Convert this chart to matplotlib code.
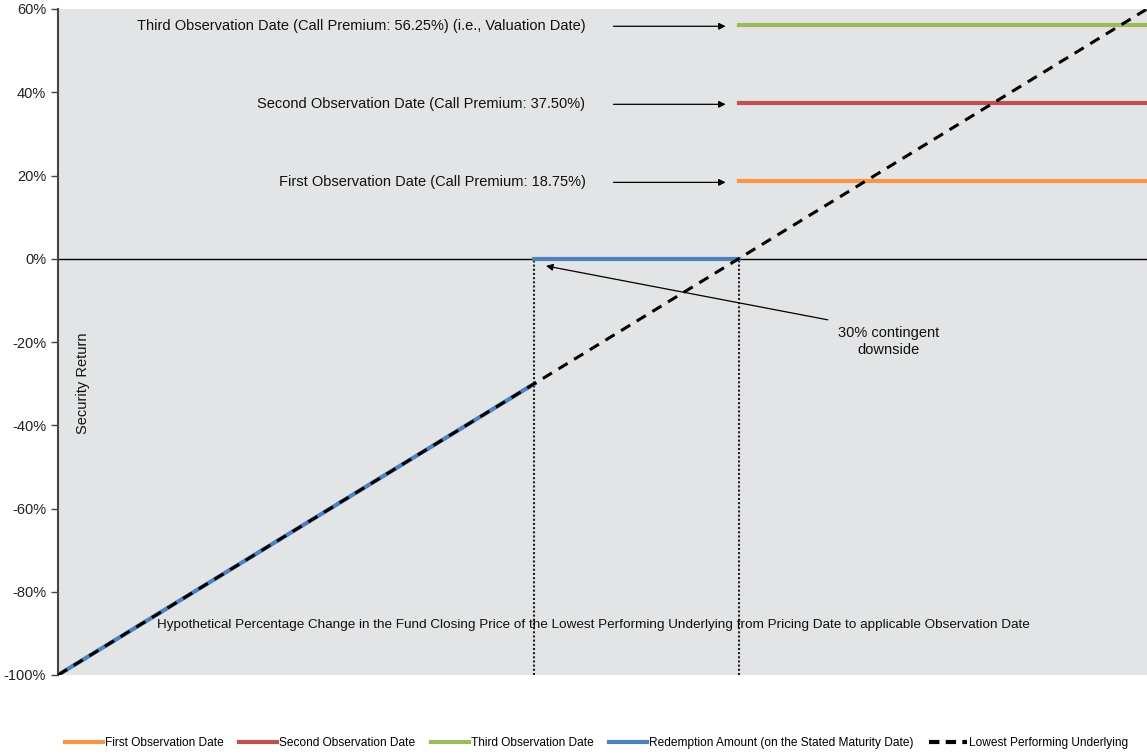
import matplotlib
matplotlib.use("Agg")
import matplotlib.pyplot as plt
from matplotlib.lines import Line2D

plt.rcParams['font.family'] = ['Liberation Sans', 'DejaVu Sans']

# Data
underlying_x = [-100, 60]
underlying_y = [-100, 60]
redemption_low_x = [-100, -30]
redemption_low_y = [-100, -30]
redemption_flat_x = [-30, 0]
redemption_flat_y = [0, 0]
premium_x = [0, 60]
first_premium = 18.75
second_premium = 37.50
third_premium = 56.25
barrier = -30
yticks = [-100, -80, -60, -40, -20, 0, 20, 40, 60]
ytick_labels = ['-100%', '-80%', '-60%', '-40%', '-20%', '0%', '20%', '40%', '60%']

c_first = '#F79646'
c_second = '#C0504D'
c_third = '#9BBB59'
c_blue = '#4F81BD'

fig = plt.figure(figsize=(11.47, 7.55), dpi=100)
ax = fig.add_axes([58/1147, 1-675/755, 1-58/1147, (675-9)/755])
ax.set_facecolor('#E3E4E5')

ax.set_xlim(-100, 60)
ax.set_ylim(-100, 60)

ax.axhline(0, color='black', lw=1, zorder=1)
ax.plot([barrier, barrier], [-100, 0], color='#222222', lw=1.5, ls=(0, (1, 1)), zorder=2)
ax.plot([0, 0], [-100, 0], color='#222222', lw=1.5, ls=(0, (1, 1)), zorder=2)

ax.plot(premium_x, [first_premium]*2, color=c_first, lw=3, zorder=3)
ax.plot(premium_x, [second_premium]*2, color=c_second, lw=3, zorder=3)
ax.plot(premium_x, [third_premium]*2, color=c_third, lw=3, zorder=3)
ax.plot(redemption_low_x, redemption_low_y, color=c_blue, lw=3, zorder=3)
ax.plot(redemption_flat_x, redemption_flat_y, color=c_blue, lw=3, zorder=3)
ax.plot(underlying_x, underlying_y, color='black', lw=2.2, ls=(0, (3.5, 2.5)), zorder=4)

ax.set_yticks(yticks)
ax.set_yticklabels(ytick_labels, fontsize=10.5, color='#222222')
ax.set_xticks([])
for s in ['top', 'right', 'bottom']:
    ax.spines[s].set_visible(False)
ax.spines['left'].set_color('#444444')
ax.spines['left'].set_linewidth(1.5)
ax.tick_params(axis='y', length=5, color='#444444', width=1)

arrow_kw = dict(arrowstyle='-|>', color='black', lw=0.9, mutation_scale=10)
ann = [
    (third_premium, 'Third Observation Date (Call Premium: 56.25%) (i.e., Valuation Date)'),
    (second_premium, 'Second Observation Date (Call Premium: 37.50%)'),
    (first_premium, 'First Observation Date (Call Premium: 18.75%)'),
]
for yv, txt in ann:
    ax.text(-22.5, yv - 0.4, txt, ha='right', va='center', fontsize=10.5, color='#111111')
    ax.annotate('', xy=(-1.5, yv - 0.4), xytext=(-18.8, yv - 0.4), arrowprops=arrow_kw)

ax.annotate('', xy=(-28.7, -1.6), xytext=(13.5, -14.8), arrowprops=arrow_kw)
ax.text(22.0, -19.8, '30% contingent\ndownside', ha='center', va='center', fontsize=10.5, color='#111111', linespacing=1.3)

ax.text(-96.3, -30, 'Security Return', rotation=90, ha='center', va='center', fontsize=10.5, color='#111111')
ax.text(-21.3, -88, 'Hypothetical Percentage Change in the Fund Closing Price of the Lowest Performing Underlying from Pricing Date to applicable Observation Date',
        ha='center', va='center', fontsize=9.7, color='#111111')

handles = [
    Line2D([], [], color=c_first, lw=3),
    Line2D([], [], color=c_second, lw=3),
    Line2D([], [], color=c_third, lw=3),
    Line2D([], [], color=c_blue, lw=3),
    Line2D([], [], color='black', lw=3, ls=(0, (2.5, 1.5))),
]
labels = ['First Observation Date', 'Second Observation Date', 'Third Observation Date',
          'Redemption Amount (on the Stated Maturity Date)', 'Lowest Performing Underlying']
fig.legend(handles, labels, loc='center', bbox_to_anchor=(0.52, 1-743/755), ncol=5, frameon=False,
           prop={'size': 8.6}, handlelength=3.2,
           handletextpad=0.15, columnspacing=1.3)

fig.savefig('out.png', dpi=100)
